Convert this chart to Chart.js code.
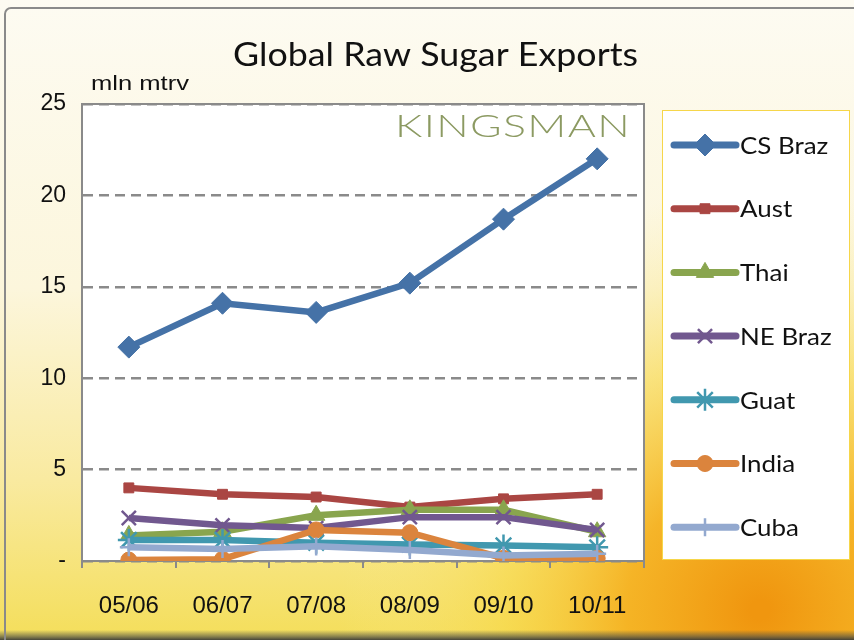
<!DOCTYPE html>
<html>
<head>
<meta charset="utf-8">
<script src="https://cdn.jsdelivr.net/npm/chart.js@4/dist/chart.umd.min.js"></script>
<style>
  html, body { margin: 0; padding: 0; background: #fff; }
  #wrap { width: 854px; height: 640px; position: relative; }
</style>
</head>
<body>
<div id="wrap"><canvas id="myChart" width="854" height="640"></canvas></div>
<script>
// seasons
const seasons = ['05/06', '06/07', '07/08', '08/09', '09/10', '10/11'];

// exports, mln t raw value
const csBraz = [11.7, 14.1, 13.6, 15.2, 18.7, 22.0];
const aust = [4.0, 3.65, 3.5, 2.95, 3.4, 3.65];
const thai = [1.4, 1.6, 2.5, 2.8, 2.8, 1.6];
const neBraz = [2.35, 1.95, 1.8, 2.4, 2.4, 1.7];
const guat = [1.15, 1.15, 1.0, 0.9, 0.85, 0.75];
const india = [0.05, 0.1, 1.7, 1.55, 0.15, 0.15];
const cuba = [0.75, 0.65, 0.8, 0.6, 0.3, 0.4];

const yTicks = [0, 5, 10, 15, 20, 25];

const seriesNames = ['CS Braz', 'Aust', 'Thai', 'NE Braz', 'Guat', 'India', 'Cuba'];
const seriesValues = [csBraz, aust, thai, neBraz, guat, india, cuba];
const colors = ['#4572a7', '#aa4643', '#89a54e', '#71588f', '#4198af', '#db843d', '#93a9cf'];
const markers = ['rectRot', 'rect', 'triangle', 'crossRot', 'star', 'circle', 'cross'];
const markerSize = [11, 7, 10, 10, 11, 8, 9];

const datasets = seriesNames.map((name, i) => {
  const crossy = markers[i] === 'crossRot' || markers[i] === 'star' || markers[i] === 'cross';
  return {
    label: name,
    data: seriesValues[i],
    borderColor: colors[i],
    backgroundColor: colors[i],
    pointBackgroundColor: colors[i],
    pointBorderColor: colors[i],
    pointBorderWidth: crossy ? 2.5 : 1,
    borderWidth: 6.5,
    pointStyle: markers[i],
    pointRadius: markerSize[i],
    tension: 0,
    order: seriesNames.length - i
  };
});

// text squeezed/stretched to a given width
function fitText(ctx, text, x, y, w) {
  const tw = ctx.measureText(text).width;
  ctx.save();
  ctx.translate(x, y);
  ctx.scale(w / tw, 1);
  ctx.fillText(text, 0, 0);
  ctx.restore();
}

const decor = {
  id: 'decor',
  beforeDraw(chart) {
    const ctx = chart.ctx;
    const a = chart.chartArea;
    ctx.save();
    // sunny background
    const lin = ctx.createLinearGradient(0, 0, 0, 640);
    lin.addColorStop(0, '#fdfbf2');
    lin.addColorStop(0.45, '#fcf6dc');
    lin.addColorStop(0.75, '#f9eaa0');
    lin.addColorStop(1, '#f4de5a');
    ctx.fillStyle = lin;
    ctx.fillRect(0, 0, 854, 640);
    const g = ctx.createRadialGradient(760, 610, 10, 760, 610, 420);
    g.addColorStop(0, 'rgba(240,150,15,1)');
    g.addColorStop(0.3, 'rgba(245,175,30,0.9)');
    g.addColorStop(0.6, 'rgba(248,215,70,0.55)');
    g.addColorStop(1, 'rgba(250,235,150,0)');
    ctx.fillStyle = g;
    ctx.fillRect(0, 0, 854, 640);
    // dark shadow at bottom
    const sh = ctx.createLinearGradient(0, 630, 0, 640);
    sh.addColorStop(0, 'rgba(80,80,70,0)');
    sh.addColorStop(0.6, 'rgba(80,80,70,0.6)');
    sh.addColorStop(1, 'rgba(60,60,55,0.95)');
    ctx.fillStyle = sh;
    ctx.fillRect(0, 630, 854, 10);
    // outer frame
    ctx.strokeStyle = '#8a8a8a';
    ctx.lineWidth = 2;
    ctx.beginPath();
    ctx.roundRect(5, 8, 860, 640, 6);
    ctx.stroke();
    // plot area
    ctx.fillStyle = '#ffffff';
    ctx.fillRect(a.left, a.top, a.right - a.left, a.bottom - a.top);
    // legend box
    ctx.fillRect(662, 110, 188, 450);
    ctx.strokeStyle = '#f6d64a';
    ctx.lineWidth = 1;
    ctx.strokeRect(662.5, 110.5, 187, 449);
    // title
    ctx.fillStyle = '#111';
    ctx.font = '33px Lato, "Open Sans", sans-serif';
    ctx.textAlign = 'left';
    ctx.textBaseline = 'alphabetic';
    fitText(ctx, 'Global Raw Sugar Exports', 233, 66, 405);
    ctx.font = '21px "Liberation Sans", Arial, sans-serif';
    fitText(ctx, 'mln mtrv', 91, 90, 98);
    ctx.restore();
  },
  beforeDatasetsDraw(chart) {
    const ctx = chart.ctx;
    const a = chart.chartArea;
    ctx.save();
    // watermark
    ctx.fillStyle = '#8c9a62';
    ctx.font = '300 32px Lato, "Open Sans", sans-serif';
    ctx.textAlign = 'left';
    ctx.textBaseline = 'alphabetic';
    if ('letterSpacing' in ctx) ctx.letterSpacing = '1px';
    fitText(ctx, 'KINGSMAN', 395, 137, 236);
    ctx.restore();
    ctx.save();
    ctx.strokeStyle = '#8a8a8a';
    ctx.lineWidth = 2;
    ctx.beginPath();
    ctx.moveTo(a.left, a.top);
    ctx.lineTo(a.right, a.top);
    ctx.lineTo(a.right, a.bottom);
    ctx.stroke();
    ctx.restore();
  },
  afterDraw(chart) {
    const ctx = chart.ctx;
    ctx.save();
    const x0 = 674, x1 = 736, xm = 705;
    chart.data.datasets.forEach((ds, i) => {
      const y = 145 + i * 63.7;
      ctx.strokeStyle = ds.borderColor;
      ctx.lineWidth = 7;
      ctx.lineCap = 'round';
      ctx.beginPath();
      ctx.moveTo(x0, y);
      ctx.lineTo(x1, y);
      ctx.stroke();
      ctx.lineCap = 'butt';
      ctx.fillStyle = ds.borderColor;
      ctx.lineWidth = ds.pointBorderWidth;
      Chart.helpers.drawPoint(ctx, {
        pointStyle: ds.pointStyle,
        radius: ds.pointRadius,
        rotation: 0,
        borderWidth: ds.pointBorderWidth
      }, xm, y);
      ctx.fillStyle = '#111';
      ctx.font = '24px Lato, "Open Sans", sans-serif';
      ctx.textAlign = 'left';
      ctx.textBaseline = 'middle';
      const w = ctx.measureText(ds.label).width;
      fitText(ctx, ds.label, 740, y + 1, w * 1.08);
    });
    ctx.restore();
  }
};

new Chart(document.getElementById('myChart'), {
  type: 'line',
  data: { labels: seasons, datasets: datasets },
  options: {
    responsive: false,
    animation: false,
    layout: { padding: { left: 0, right: 210, top: 104, bottom: 0 } },
    plugins: {
      legend: { display: false },
      tooltip: { enabled: false }
    },
    scales: {
      x: {
        offset: true,
        afterFit: (s) => { s.height = 79; },
        grid: {
          offset: true,
          drawOnChartArea: false,
          drawTicks: true,
          tickLength: 7,
          color: '#8a8a8a',
          lineWidth: 2
        },
        border: { display: true, color: '#8a8a8a', width: 2 },
        ticks: {
          color: '#111',
          padding: 24,
          font: { family: '"Liberation Sans", Arial, sans-serif', size: 24 }
        }
      },
      y: {
        min: 0,
        max: 25,
        afterFit: (s) => { s.width = 82; },
        afterBuildTicks: (s) => { s.ticks = yTicks.map(v => ({ value: v })); },
        grid: {
          color: '#8a8a8a',
          lineWidth: 2.5,
          drawTicks: false
        },
        border: { display: true, color: '#8a8a8a', width: 2, dash: [10, 6] },
        ticks: {
          color: '#111',
          padding: 16,
          font: { family: '"Liberation Sans", Arial, sans-serif', size: 23 },
          callback: (v) => (v === 0 ? '-' : v)
        }
      }
    }
  },
  plugins: [decor]
});
</script>
</body>
</html>
